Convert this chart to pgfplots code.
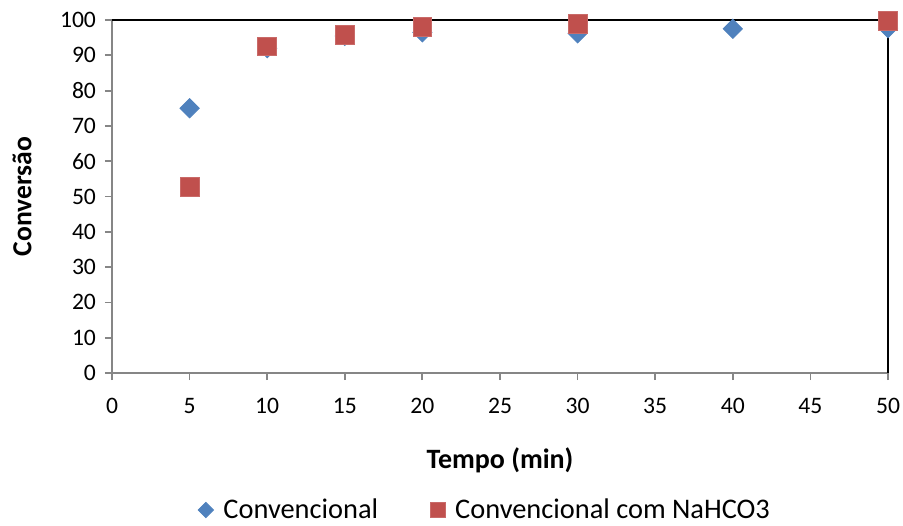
\documentclass[border=0pt]{standalone}
\usepackage{pgfplots}
\pgfplotsset{compat=1.18}
\usepackage{fontspec}
\setmainfont{Carlito}
\definecolor{cblue}{HTML}{4F81BD}
\definecolor{cred}{HTML}{C0504D}
\definecolor{axgray}{HTML}{868686}
\begin{document}
\begin{tikzpicture}
\useasboundingbox (-56pt,-76pt) rectangle (395.5pt,186.5pt);
\begin{axis}[
  at={(0,0)}, anchor=south west,
  scale only axis, width=388pt, height=176.5pt,
  xmin=0, xmax=50, ymin=0, ymax=100,
  xtick={0,5,...,50}, ytick={0,10,...,100},
  axis x line*=bottom, axis y line*=left,
  axis line style={axgray, line width=0.9pt, -},
  tick style={axgray, line width=0.9pt},
  tick align=outside, major tick length=3.5pt,
  font=\fontsize{11.8pt}{14pt}\selectfont,
  /pgf/number format/assume math mode=true,
  xticklabel style={yshift=-5.5pt},
  yticklabel style={xshift=-1pt},
  xlabel={\textbf{Tempo (min)}},
  ylabel={\textbf{Conversão}},
  every axis x label/.style={at={(axis description cs:0.5,0)}, anchor=center, yshift=-43.5pt, font=\fontsize{14pt}{16pt}\selectfont},
  every axis y label/.style={at={(axis description cs:-0.116,0.5)}, rotate=90, anchor=center, font=\fontsize{13.8pt}{16pt}\selectfont},
  clip=false,
  legend columns=2,
  legend image post style={scale=0.8},
  legend style={draw=none, fill=none, at={(0.482,0)}, anchor=center, yshift=-68.5pt,
    font=\fontsize{14.2pt}{16pt}\selectfont,
    /tikz/every even column/.append style={column sep=24pt},
    /tikz/every odd column/.append style={column sep=3pt}},
  legend cell align=left,
]
\addplot[only marks, mark=diamond*, mark size=4.8pt, mark options={xscale=1.333, fill=cblue, draw=cblue}]
  coordinates {(5,75) (10,92) (15,95.5) (20,96.5) (30,96.2) (40,97.5) (50,97.7)};
\addlegendentry{Convencional}
\addplot[only marks, mark=square*, mark size=4.7pt, mark options={fill=cred, draw=cred!85!white}]
  coordinates {(5,52.8) (10,92.5) (15,95.8) (20,98) (30,99) (50,99.8)};
\addlegendentry{Convencional com NaHCO3}
\draw[black, line width=0.9pt] (rel axis cs:0,1) -- (rel axis cs:1,1) -- (rel axis cs:1,0);
\end{axis}
\end{tikzpicture}
\end{document}
